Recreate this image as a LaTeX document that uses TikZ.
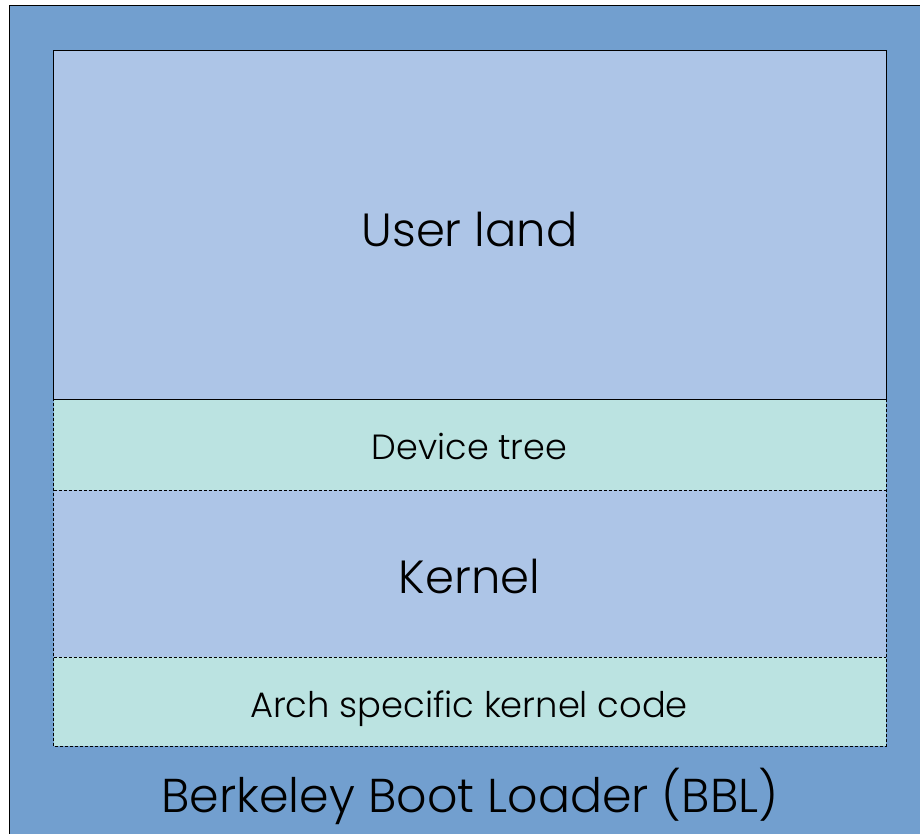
\documentclass[tikz,border=0pt]{standalone}
\usepackage{fontspec}
\setmainfont{Poppins Light}
\definecolor{outerblue}{HTML}{729FCF}
\definecolor{innerblue}{HTML}{ADC5E7}
\definecolor{innerteal}{HTML}{BBE3E1}
\tikzset{
  layer/.style={draw=black, line width=0.7pt},
  dashlayer/.style={draw=black, line width=0.7pt, dash pattern=on 3pt off 2pt},
  lbl/.style={text=black, inner sep=0pt, anchor=base}
}
\begin{document}
\begin{tikzpicture}[x=1pt,y=-1pt]
\useasboundingbox (0,0) rectangle (920,833);
\fill[white] (0,0) rectangle (920,833);
\begin{scope}
\clip (0,0) rectangle (920,833);
\node[draw=black, fill=outerblue, line width=0.8pt, inner sep=0pt, minimum width=925pt, minimum height=840pt, anchor=north west] (bbl) at (8.5,4.5) {};
\end{scope}
% layers
\node[inner sep=0pt, minimum width=832pt, minimum height=348pt, fill=innerblue, anchor=north west] (user) at (53.5,50.5) {};
\node[inner sep=0pt, minimum width=832pt, minimum height=91pt, fill=innerteal, anchor=north west] (dt) at (53.5,398.5) {};
\node[inner sep=0pt, minimum width=832pt, minimum height=167pt, fill=innerblue, anchor=north west] (kern) at (53.5,489.5) {};
\node[inner sep=0pt, minimum width=832pt, minimum height=89pt, fill=innerteal, anchor=north west] (arch) at (53.5,656.5) {};
\draw[dashlayer] (dt.north east) -- (arch.south east) -- (arch.south west) -- (dt.north west);
\draw[dashlayer] (dt.south west) -- (dt.south east);
\draw[dashlayer] (kern.south west) -- (kern.south east);
\draw[layer] (user.north west) rectangle (user.south east);
% labels
\node[lbl] at (469.5,246) {\fontsize{46.5}{54}\selectfont User land};
\node[lbl] at (469.5,459) {\fontsize{35}{42}\selectfont Device tree};
\node[lbl] at (469.5,593) {\fontsize{46.5}{54}\selectfont Kernel};
\node[lbl] at (469,717) {\fontsize{35.3}{42}\selectfont Arch specific kernel code};
\node[lbl] at (470,812) {\fontsize{47.5}{55}\selectfont Berkeley Boot Loader (BBL)};
\end{tikzpicture}
\end{document}
